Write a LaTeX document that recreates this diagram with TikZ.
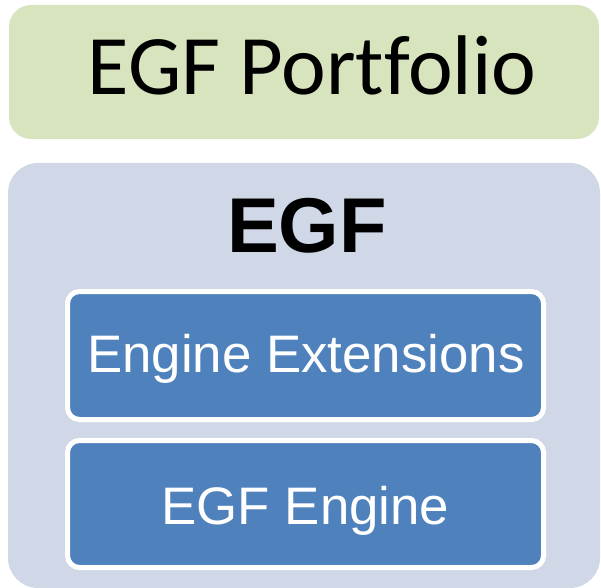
\documentclass[tikz,border=0pt]{standalone}
\usepackage{fontspec}
\setmainfont{Liberation Sans}
\newfontfamily\calib[Ligatures=NoCommon]{Carlito}
\definecolor{portgreen}{HTML}{D7E4BD}
\definecolor{egfgray}{HTML}{D0D8E8}
\definecolor{layerblue}{HTML}{4F81BD}
\tikzset{
  panel/.style={rounded corners=#1, draw=none},
  layerbox/.style={fill=layerblue, draw=white, line width=5bp, rounded corners=12bp},
  layertext/.style={anchor=base, text=white, inner sep=0pt, font=\fontsize{53}{53}\selectfont}
}
\begin{document}
\begin{tikzpicture}[x=1bp, y=-1bp]
  \useasboundingbox (0,0) rectangle (601,588);
  % portfolio banner
  \fill[portgreen, panel=22bp] (9,5) rectangle (599,139);
  \node[anchor=base, inner sep=0pt, font=\calib\fontsize{85}{85}\selectfont] (port) at (312,95) {EGF Portfolio};
  % EGF container
  \fill[egfgray, panel=30bp] (8,163) rectangle (600,588);
  \node[anchor=base, inner sep=0pt, font=\bfseries\fontsize{78}{78}\selectfont] (egf) at (307,252) {EGF};
  % layers
  \draw[layerbox] (67.5,291.5) rectangle (543.5,419.5);
  \node[layertext] (ext) at (306,372) {Engine Extensions};
  \draw[layerbox] (67.5,440.5) rectangle (543.5,567.5);
  \node[layertext] (eng) at (305.5,524) {EGF Engine};
\end{tikzpicture}
\end{document}
